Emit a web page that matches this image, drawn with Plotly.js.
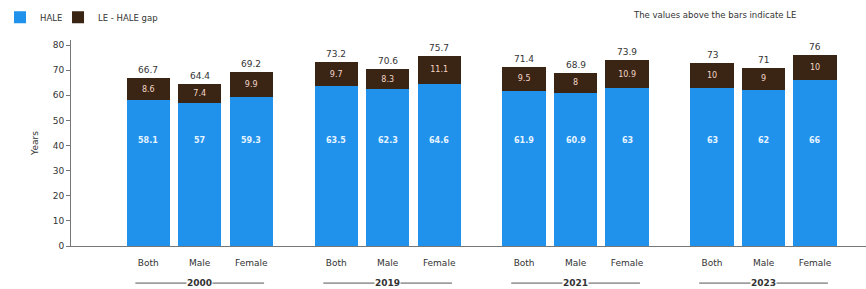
<!DOCTYPE html>
<html>
<head>
<meta charset="utf-8">
<script src="https://cdn.plot.ly/plotly-3.0.1.min.js"></script>
<style>html,body{margin:0;padding:0;background:#fff;}#chart{width:866px;height:289px;}</style>
</head>
<body>
<div id="chart"></div>
<script>
const years = ["2000", "2019", "2021", "2023"];
const sexes = ["Both", "Male", "Female"];
const hale = [58.1, 57, 59.3, 63.5, 62.3, 64.6, 61.9, 60.9, 63, 63, 62, 66];
const gap = [8.6, 7.4, 9.9, 9.7, 8.3, 11.1, 9.5, 8, 10.9, 10, 9, 10];
const le = [66.7, 64.4, 69.2, 73.2, 70.6, 75.7, 71.4, 68.9, 73.9, 73, 71, 76];

const groupStride = 3.65;
const xs = [], tickText = [];
years.forEach((y, gi) => sexes.forEach((s, si) => { xs.push(gi * groupStride + si); tickText.push(s); }));

const blue = "#2192ec", brown = "#3a2414";
const font = "DejaVu Sans, Verdana, sans-serif";

const traces = [
  {type: "bar", name: "HALE", x: xs, y: hale, marker: {color: blue}, width: 0.84,
   hoverinfo: "y", legend: "legend"},
  {type: "bar", name: "LE - HALE gap", x: xs, y: gap, marker: {color: brown}, width: 0.84,
   text: gap.map(String), textposition: "inside", insidetextanchor: "middle",
   textfont: {family: font, size: 8, color: "#f3d6c8"}, hoverinfo: "y", legend: "legend2"}
];

const annotations = [];
xs.forEach((x, i) => {
  annotations.push({x: x, y: le[i], text: String(le[i]), showarrow: false, yanchor: "bottom", yshift: 1,
    font: {family: font, size: 9, color: "#333"}});
  annotations.push({x: x, y: 42, text: "<b>" + hale[i] + "</b>", showarrow: false, yanchor: "middle",
    font: {family: font, size: 8, color: "#e6f4ff"}});
});
const shapes = [];
const yearY = -0.18;
years.forEach((y, gi) => {
  const c = gi * groupStride + 1;
  shapes.push({type: "line", xref: "x", yref: "paper", x0: c - 1.25, x1: c + 1.25, y0: yearY, y1: yearY,
    line: {color: "#555", width: 1}});
  annotations.push({x: c, xref: "x", y: yearY, yref: "paper", yanchor: "middle", xanchor: "center",
    text: "<b>" + y + "</b>", showarrow: false,
    bgcolor: "#fff", borderpad: 0, font: {family: font, size: 9, color: "#333"}});
});
annotations.push({xref: "paper", yref: "paper", x: 0.705, y: 1.12, xanchor: "left", yanchor: "middle",
  text: "The values above the bars indicate LE", showarrow: false,
  font: {family: font, size: 8.5, color: "#333"}});

const legendBase = {orientation: "h", xref: "container", yref: "container", y: 0.94,
  xanchor: "left", yanchor: "middle", itemwidth: 30, bgcolor: "rgba(0,0,0,0)",
  font: {family: font, size: 8.5, color: "#333"}};

const layout = {
  width: 866, height: 289,
  margin: {l: 71, r: 0, t: 40, b: 43},
  barmode: "stack",
  paper_bgcolor: "#fff", plot_bgcolor: "#fff",
  showlegend: true,
  legend: Object.assign({}, legendBase, {x: 0}),
  legend2: Object.assign({}, legendBase, {x: 0.067}),
  xaxis: {range: [-1.5, 13.94], tickmode: "array", tickvals: xs, ticktext: tickText,
    showline: true, linecolor: "#777", linewidth: 1, ticks: "", showgrid: false, zeroline: false,
    ticklabelstandoff: 8,
    tickfont: {family: font, size: 9, color: "#333"}},
  yaxis: {range: [0, 82], tickvals: [0,10,20,30,40,50,60,70,80], showline: true, linecolor: "#777",
    ticks: "outside", ticklen: 4, tickcolor: "#777", showgrid: false, zeroline: false,
    tickfont: {family: font, size: 9, color: "#333"},
    title: {text: "Years", standoff: 12, font: {family: font, size: 9, color: "#333"}}},
  annotations: annotations,
  shapes: shapes,
  font: {family: font}
};
Plotly.newPlot("chart", traces, layout, {displayModeBar: false, staticPlot: true});
</script>
</body>
</html>
